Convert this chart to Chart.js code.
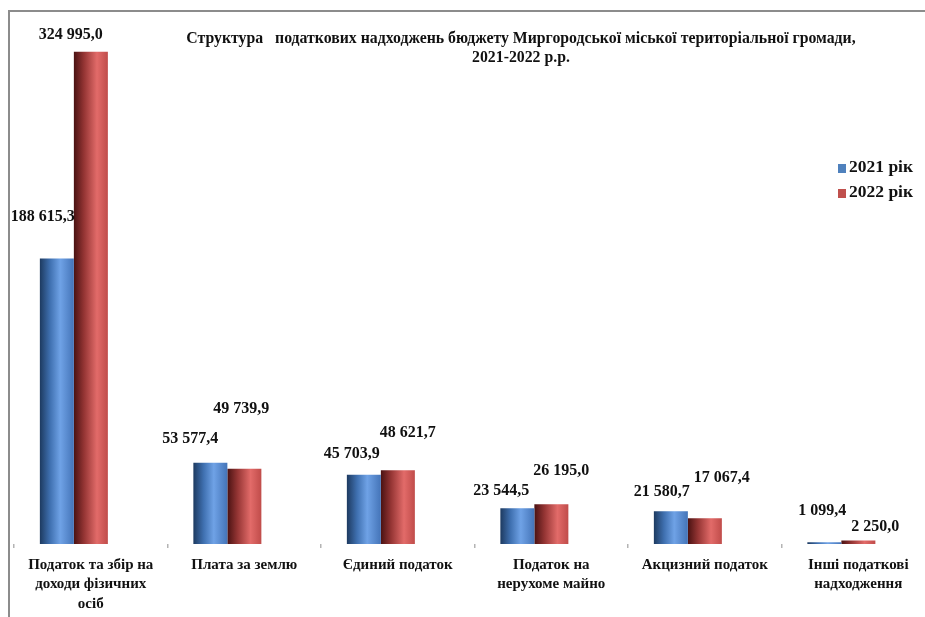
<!DOCTYPE html>
<html lang="uk">
<head>
<meta charset="utf-8">
<script src="https://cdn.jsdelivr.net/npm/chart.js@4.4.1/dist/chart.umd.min.js"></script>
<style>
  html, body { margin: 0; padding: 0; background: #fff; overflow: hidden; }
  #wrap { position: relative; width: 925px; height: 617px; overflow: hidden; }
  #c { position: absolute; left: 0; top: 0; }
  .frame { position: absolute; left: 8px; top: 10px; width: 2000px; height: 2000px;
           border-left: 2px solid #8c8c8c; border-top: 2px solid #8c8c8c; pointer-events: none; }
  .title { position: absolute; left: 121px; top: 28px; width: 800px; text-align: center;
           font: bold 15.8px "Liberation Serif", "Times New Roman", serif; line-height: 19px; color: #111; }
  .legend { position: absolute; left: 838px; top: 154px;
            font: bold 17.5px "Liberation Serif", "Times New Roman", serif; color: #111; }
  .legend div { height: 25px; line-height: 25px; white-space: nowrap; }
  .legend i { display: inline-block; width: 8px; height: 9px; margin-right: 3px; vertical-align: -1px; }
</style>
</head>
<body>
<div id="wrap">
  <canvas id="c" width="945" height="617" style="width:945px;height:617px"></canvas>
  <div class="frame"></div>
  <div class="title">Структура&nbsp;&nbsp; податкових надходжень бюджету Миргородської міської територіальної громади,<br>2021-2022 р.р.</div>
  <div class="legend" id="legend"></div>
</div>
<script>
// categories and values (тис. грн)
const categories = [
  ['Податок та збір на', 'доходи фізичних', 'осіб'],
  ['Плата за землю'],
  ['Єдиний податок'],
  ['Податок на', 'нерухоме майно'],
  ['Акцизний податок'],
  ['Інші податкові', 'надходження']
];
const values2021 = [188615.3, 53577.4, 45703.9, 23544.5, 21580.7, 1099.4];
const values2022 = [324995.0, 49739.9, 48621.7, 26195.0, 17067.4, 2250.0];
const seriesNames = ['2021 рік', '2022 рік'];
const yMax = 350000;

// label nudges (dx, dy from bar top) - labels were hand placed in the original
const labelShift2021 = [[-14, -42], [-20, -24], [-12, -21], [-16, -17], [-9, -19], [-2, -31]];
const labelShift2022 = [[-20, -17], [-3, -60], [10, -38], [10, -33], [17, -40], [17, -14]];

const serif = '"Liberation Serif", "Times New Roman", serif';
const catPct = 0.443;
// bar groups sit a bit left of the category centres (3-D depth in the original)
const groupShift = 0.11;
const legendColors = ['#4f81bd', '#c0504d'];
const blueStops = [[0, '#1d3a60'], [0.3, '#3f70b0'], [0.6, '#6fa2e6'], [1, '#4474b8']];
const redStops = [[0, '#4a1212'], [0.3, '#953534'], [0.68, '#e26b69'], [1, '#c04c4a']];

const fmt = v => {
  const [i, d] = v.toFixed(1).split('.');
  return i.replace(/\B(?=(\d{3})+(?!\d))/g, ' ') + ',' + d;
};

// cylinder-like horizontal gradient per bar
const barFill = (stops, fallback) => ctx => {
  const chart = ctx.chart;
  const xs = chart.scales.xb;
  if (!xs || ctx.dataIndex === undefined || !chart.chartArea) return fallback;
  const bw = xs.width / categories.length * catPct / 2;
  const c = xs.getPixelForValue(ctx.dataIndex);
  const left = ctx.datasetIndex === 0 ? c - bw : c;
  const g = chart.ctx.createLinearGradient(left, 0, left + bw, 0);
  stops.forEach(([o, col]) => g.addColorStop(o, col));
  return g;
};

const valueLabels = {
  id: 'valueLabels',
  afterDatasetsDraw(chart) {
    const ctx = chart.ctx;
    ctx.save();
    ctx.font = 'bold 16px ' + serif;
    ctx.fillStyle = '#111';
    ctx.textAlign = 'center';
    ctx.textBaseline = 'middle';
    [[values2021, labelShift2021], [values2022, labelShift2022]].forEach(([vals, shift], di) => {
      chart.getDatasetMeta(di).data.forEach((bar, i) => {
        ctx.fillText(fmt(vals[i]), bar.x + shift[i][0], bar.y + shift[i][1]);
      });
    });
    ctx.restore();
  }
};

const toPoints = vals => vals.map((v, i) => ({ x: i, y: v }));

new Chart(document.getElementById('c'), {
  type: 'bar',
  data: {
    labels: categories,
    datasets: [
      { label: seriesNames[0], data: toPoints(values2021), xAxisID: 'xb', backgroundColor: barFill(blueStops, legendColors[0]) },
      { label: seriesNames[1], data: toPoints(values2022), xAxisID: 'xb', backgroundColor: barFill(redStops, legendColors[1]) }
    ]
  },
  options: {
    responsive: false,
    animation: false,
    layout: { padding: { left: 14, right: 10, top: 14, bottom: 0 } },
    datasets: { bar: { categoryPercentage: catPct, barPercentage: 1 } },
    plugins: { legend: { display: false }, tooltip: { enabled: false } },
    scales: {
      x: {
        type: 'category',
        offset: true,
        grid: { offset: true, drawOnChartArea: false, tickLength: 4, color: '#b4b4b4', lineWidth: 1.5 },
        border: { display: false },
        ticks: { color: '#111', padding: 7, maxRotation: 0, autoSkip: false,
                 font: { family: serif, size: 15, weight: 'bold', lineHeight: 1.3 } },
        afterFit: s => { s.height = 73; }
      },
      xb: {
        type: 'linear', display: false, offset: false, grid: { offset: false },
        min: -0.5 + groupShift, max: categories.length - 0.5 + groupShift,
        // one tick per category so the bar width follows the category spacing
        afterBuildTicks: s => { s.ticks = categories.map((_, i) => ({ value: i })); }
      },
      y: { display: false, min: 0, max: yMax }
    }
  },
  plugins: [valueLabels]
});

document.getElementById('legend').innerHTML = seriesNames
  .map((n, i) => `<div><i style="background:${legendColors[i]}"></i>${n}</div>`).join('');
</script>
</body>
</html>
